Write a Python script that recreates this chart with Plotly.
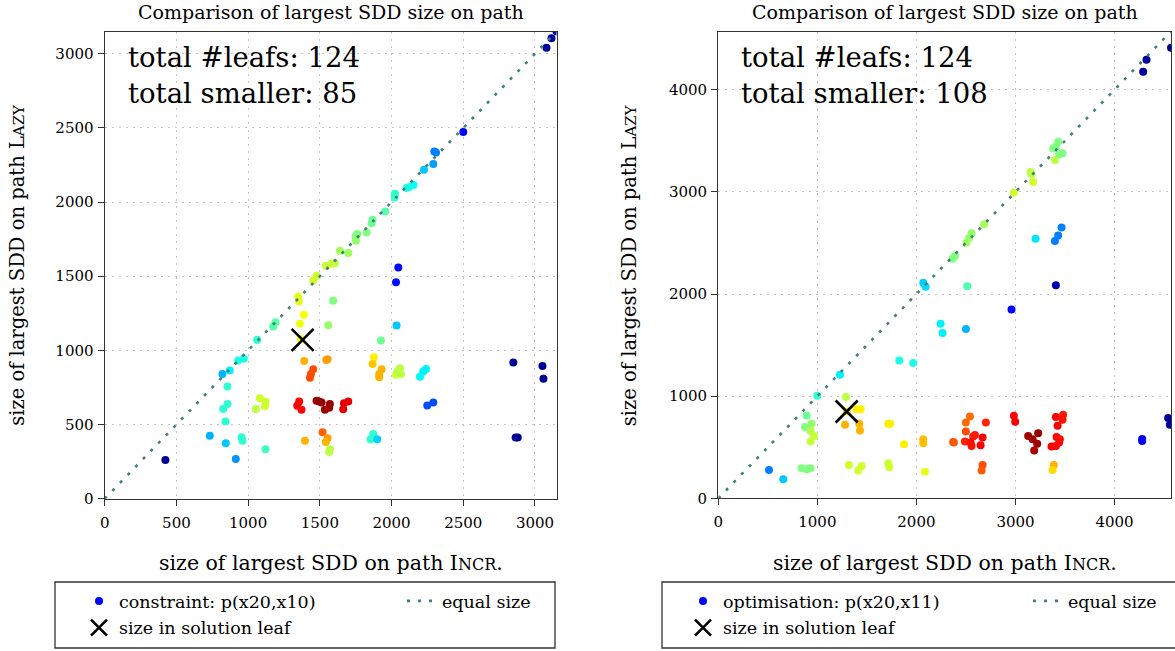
import plotly.graph_objects as go

W, H = 1175, 651
FONT = "DejaVu Serif"

# ---------------- data: left panel (constraint) ----------------
left_incr = [2500, 3150, 3115, 3080, 2298, 2310, 2291, 2226, 2152, 2124, 2105, 2024, 2022, 1956,
             1868, 1861, 1826, 1761, 1749, 1752, 1698, 1640, 1605, 1582, 1542, 1477, 1454, 1349,
             1354, 1191, 1175, 1063, 970, 930, 872, 821,
             1593, 1389, 1361, 1559, 1368, 1926, 2047, 2031, 2035,
             856, 856, 826, 842, 733, 844, 954, 961, 914, 1121, 423,
             1082, 1121, 1054, 1117, 1391, 1554, 1545, 1454, 1438, 1431,
             1356, 1342, 1372, 1477, 1512, 1570, 1535, 1565, 1495, 1698, 1668, 1663,
             1396, 1519, 1554, 1542, 1570, 1565,
             1877, 1868, 1931, 1914, 1914, 2059, 2031, 2066, 2040,
             2240, 2221, 2198, 2291, 2249, 1872, 1854, 1900,
             2849, 3052, 3059, 2865, 2880]
left_lazy = [2472, 3150, 3105, 3040, 2341, 2335, 2256, 2218, 2115, 2101, 2094, 2056, 2031, 1937,
             1880, 1858, 1795, 1784, 1768, 1739, 1656, 1671, 1588, 1584, 1570, 1503, 1471, 1363,
             1329, 1190, 1161, 1071, 943, 931, 864, 841,
             1334, 1240, 1179, 1170, 1075, 1066, 1559, 1460, 1167,
             756, 639, 605, 520, 425, 374, 414, 391, 268, 333, 261,
             677, 655, 605, 624, 929, 941, 935, 873, 841, 815,
             655, 627, 599, 661, 648, 639, 599, 614, 655, 655, 644, 603,
             391, 448, 408, 383, 333, 315,
             954, 909, 873, 841, 819, 880, 835, 841, 857,
             875, 857, 823, 648, 628, 437, 401, 401,
             918, 895, 808, 412, 412]
left_color = [0.13, 0.02, 0.03, 0.03, 0.25, 0.25, 0.28, 0.32, 0.38, 0.40, 0.40, 0.42, 0.43, 0.46,
              0.48, 0.48, 0.50, 0.50, 0.50, 0.52, 0.53, 0.54, 0.56, 0.57, 0.57, 0.58, 0.58, 0.60,
              0.60, 0.46, 0.46, 0.42, 0.40, 0.40, 0.36, 0.30,
              0.50, 0.62, 0.61, 0.52, 0.62, 0.48, 0.13, 0.14, 0.32,
              0.42, 0.42, 0.42, 0.42, 0.30, 0.32, 0.42, 0.42, 0.27, 0.44, 0.02,
              0.58, 0.58, 0.56, 0.58, 0.70, 0.72, 0.72, 0.80, 0.80, 0.80,
              0.88, 0.88, 0.87, 0.97, 0.97, 0.97, 0.97, 0.97, 0.98, 0.90, 0.90, 0.90,
              0.70, 0.78, 0.72, 0.70, 0.56, 0.56,
              0.64, 0.68, 0.70, 0.70, 0.70, 0.56, 0.58, 0.56, 0.56,
              0.36, 0.36, 0.37, 0.20, 0.20, 0.42, 0.42, 0.33,
              0.02, 0.02, 0.02, 0.02, 0.02]
left_solution = ([1380], [1071])
left_equal = [0, 3150]
left_stats = ("124", "85")

# ---------------- data: right panel (optimisation) ----------------
right_incr = [2960, 4570, 4323, 4289, 3431, 3380, 3408, 3475, 3398, 3441, 3152, 3179, 3162, 2984,
              2684, 2557, 2533, 2507, 2389, 2365, 2069, 2093, 2513, 3203, 3465, 3431, 3398, 3408,
              2244, 2264, 2500, 1827, 1968, 1228, 999, 1289, 1300, 1397, 1437,
              1279, 1423, 1430, 1716, 1735, 1874, 2069, 2069, 2371,
              892, 875, 942, 932, 966, 932, 841, 892, 932, 512, 656,
              1319, 1413, 1447, 1716, 1726, 2086,
              2540, 2499, 2701, 2499, 2378, 2489, 2573, 2547, 2557, 2668, 2648, 2590,
              2668, 2658, 2984, 2997,
              3128, 3173, 3229, 3219, 3189,
              3408, 3481, 3475, 3425, 3415, 3448, 3441, 3364, 3408,
              3387, 3374, 4279, 4279, 4541, 4558]
right_lazy = [1848, 4410, 4294, 4177, 3490, 3425, 3445, 3379, 3313, 3369, 3195, 3097, 3173, 2993,
              2682, 2594, 2551, 2502, 2371, 2345, 2110, 2071, 2077, 2542, 2650, 2574, 2518, 2086,
              1710, 1619, 1658, 1350, 1325, 1210, 1004, 991, 850, 873, 873,
              719, 729, 663, 729, 729, 530, 579, 540, 550,
              811, 697, 729, 660, 611, 555, 294, 285, 294, 278, 186,
              327, 271, 317, 343, 304, 261,
              801, 742, 742, 654, 546, 555, 605, 546, 513, 595, 520, 620,
              327, 271, 808, 749,
              611, 579, 638, 533, 467,
              795, 817, 768, 710, 599, 579, 546, 506, 513,
              327, 278, 580, 560, 785, 719]
right_color = [0.13, 0.02, 0.03, 0.03, 0.50, 0.50, 0.50, 0.50, 0.56, 0.50, 0.56, 0.58, 0.56, 0.58,
               0.54, 0.52, 0.52, 0.53, 0.50, 0.50, 0.33, 0.34, 0.45, 0.35, 0.25, 0.25, 0.25, 0.05,
               0.36, 0.36, 0.30, 0.40, 0.40, 0.36, 0.42, 0.56, 0.64, 0.64, 0.64,
               0.70, 0.70, 0.70, 0.64, 0.64, 0.64, 0.69, 0.69, 0.80,
               0.48, 0.50, 0.52, 0.55, 0.57, 0.57, 0.50, 0.50, 0.50, 0.25, 0.32,
               0.58, 0.58, 0.58, 0.58, 0.58, 0.60,
               0.77, 0.77, 0.84, 0.80, 0.79, 0.84, 0.85, 0.86, 0.86, 0.88, 0.88, 0.85,
               0.80, 0.79, 0.87, 0.88,
               0.97, 0.97, 0.98, 0.97, 0.96,
               0.88, 0.85, 0.86, 0.88, 0.87, 0.86, 0.87, 0.88, 0.87,
               0.70, 0.66, 0.12, 0.12, 0.03, 0.03]
right_solution = ([1296], [850])
right_equal = [0, 4570]
right_stats = ("124", "108")

x_ticks_left = [0, 500, 1000, 1500, 2000, 2500, 3000]
x_ticks_right = [0, 1000, 2000, 3000, 4000]

JET = [[0.0, "rgb(0,0,128)"], [0.125, "rgb(0,0,255)"], [0.375, "rgb(0,255,255)"],
       [0.625, "rgb(255,255,0)"], [0.875, "rgb(255,0,0)"], [1.0, "rgb(128,0,0)"]]

# ---------------- layout geometry (px) ----------------
panels = [
    dict(x0=104.7, x1=556.5, y0=31.5, y1=498.7, xs="x", ys="y",
         incr=left_incr, lazy=left_lazy, col=left_color, sol=left_solution,
         eq=left_equal, stats=left_stats, ticks=x_ticks_left,
         name="constraint: p(x20,x10)", box=(55, 555), lg=("legend", "legend2"),
         lgx=(79, 402)),
    dict(x0=718.3, x1=1171.0, y0=31.5, y1=498.3, xs="x2", ys="y2",
         incr=right_incr, lazy=right_lazy, col=right_color, sol=right_solution,
         eq=right_equal, stats=right_stats, ticks=x_ticks_right,
         name="optimisation: p(x20,x11)", box=(662, 1185), lg=("legend3", "legend4"),
         lgx=(683, 1028)),
]

fig = go.Figure()
layout = dict(width=W, height=H, margin=dict(l=0, r=0, t=0, b=0),
              paper_bgcolor="white", plot_bgcolor="white",
              font=dict(family=FONT, color="black", size=15), showlegend=True)
annotations = []
shapes = []

for i, p in enumerate(panels):
    ax = "" if i == 0 else "2"
    xd = [p["x0"] / W, p["x1"] / W]
    yd = [1 - p["y1"] / H, 1 - p["y0"] / H]
    axis_common = dict(showgrid=True, gridcolor="#c4c4c4", griddash="2px,5px", gridwidth=1,
                       showline=True, linecolor="#333333", linewidth=1.3, mirror=True,
                       ticks="outside", ticklen=6, tickcolor="#333333", zeroline=False,
                       tickfont=dict(family=FONT, size=15, color="black"), automargin=False)
    layout["xaxis" + ax] = dict(domain=xd, range=[0, p["eq"][1]], tickvals=p["ticks"],
                                anchor="y" + ax, ticklabelstandoff=4, **axis_common)
    layout["yaxis" + ax] = dict(domain=yd, range=[0, p["eq"][1]], anchor="x" + ax,
                                dtick=1000 if i == 1 else 500, ticklabelstandoff=1,
                                **axis_common)

    fig.add_trace(go.Scatter(x=p["incr"], y=p["lazy"], mode="markers", name=p["name"],
                             xaxis=p["xs"], yaxis=p["ys"], legend=p["lg"][0], legendgroup="a%d" % i,
                             marker=dict(size=8, color=p["col"], colorscale=JET, cmin=0, cmax=1,
                                         line=dict(width=0))))
    fig.add_trace(go.Scatter(x=p["eq"], y=p["eq"], mode="lines", name="equal size",
                             xaxis=p["xs"], yaxis=p["ys"], legend=p["lg"][1],
                             line=dict(color="#3f7f7c", width=2.6, dash="3px,8px")))
    fig.add_trace(go.Scatter(x=p["sol"][0], y=p["sol"][1], mode="markers",
                             name="size in solution leaf", legendgroup="b%d" % i,
                             xaxis=p["xs"], yaxis=p["ys"], legend=p["lg"][0],
                             marker=dict(symbol="x-thin-open", size=22, color="black",
                                         line=dict(width=2.6, color="black"))))

    cx = (p["x0"] + p["x1"]) / 2 / W
    annotations.append(dict(text="Comparison of largest SDD size on path", x=cx, y=1 - 12 / H,
                            xref="paper", yref="paper", showarrow=False, xanchor="center",
                            yanchor="middle", font=dict(family=FONT, size=19)))
    annotations.append(dict(text='size of largest SDD on path I<span style="font-size:16px">NCR</span>.',
                            x=cx, y=1 - 563 / H, xref="paper", yref="paper", showarrow=False,
                            xanchor="center", yanchor="middle", font=dict(family=FONT, size=20.5)))
    annotations.append(dict(text='size of largest SDD on path L<span style="font-size:15px">AZY</span>',
                            x=(p["x0"] - 88) / W, y=1 - (p["y0"] + p["y1"]) / 2 / H,
                            xref="paper", yref="paper", showarrow=False, textangle=-90,
                            xanchor="center", yanchor="middle", font=dict(family=FONT, size=19.5)))
    annotations.append(dict(text="total #leafs: %s<br>total smaller: %s" % p["stats"],
                            x=(p["x0"] + 21) / W, y=1 - 39 / H, xref="paper", yref="paper",
                            showarrow=False, xanchor="left", yanchor="top", align="left",
                            font=dict(family=FONT, size=27.5)))
    bx0, bx1 = p["box"]
    shapes.append(dict(type="rect", xref="paper", yref="paper", x0=bx0 / W, x1=bx1 / W,
                       y0=1 - 648 / H, y1=1 - 582 / H, line=dict(color="#333333", width=1.3),
                       fillcolor="rgba(0,0,0,0)"))
    layout[p["lg"][0]] = dict(x=p["lgx"][0] / W, y=1 - 583 / H, xanchor="left", yanchor="top",
                              orientation="v", bgcolor="rgba(0,0,0,0)", borderwidth=0,
                              tracegroupgap=1, font=dict(family=FONT, size=17.5))
    layout[p["lg"][1]] = dict(x=p["lgx"][1] / W, y=1 - 583 / H, xanchor="left", yanchor="top",
                              orientation="v", bgcolor="rgba(0,0,0,0)", borderwidth=0,
                              font=dict(family=FONT, size=17.5))

layout["annotations"] = annotations
layout["shapes"] = shapes
fig.update_layout(**layout)
fig.write_html("out.html")
